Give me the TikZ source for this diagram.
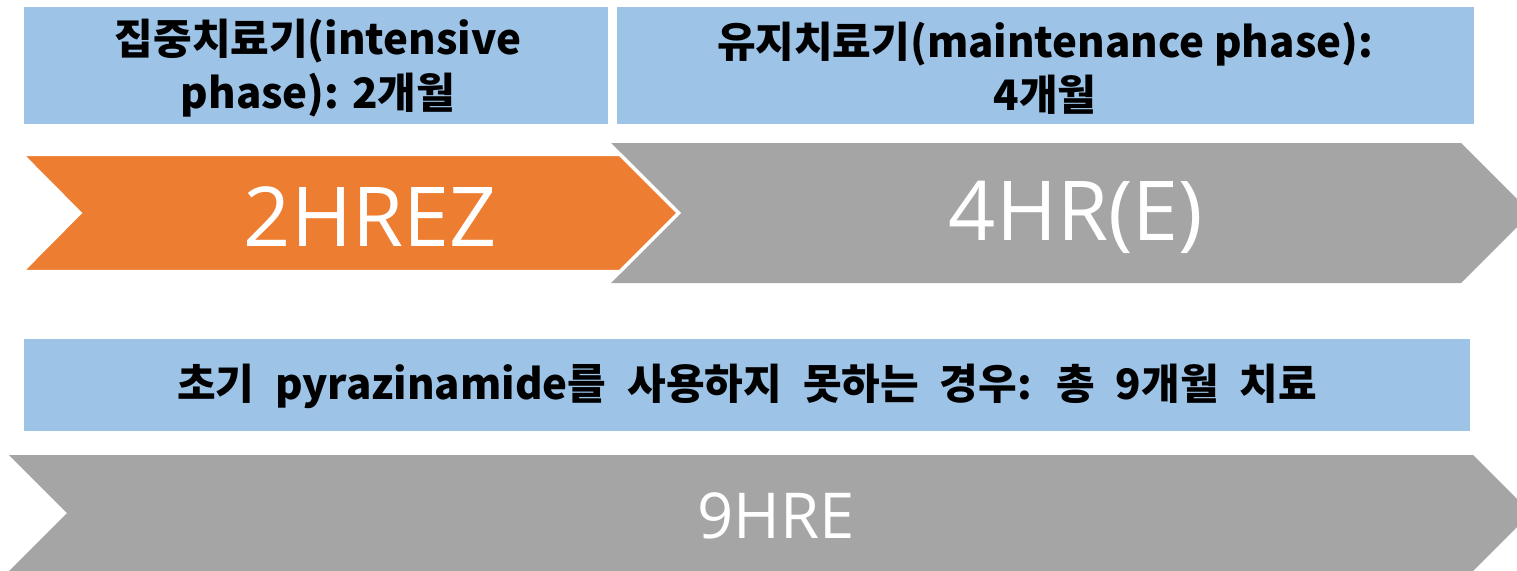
\documentclass[tikz,border=0pt]{standalone}
\usepackage{fontspec}
\setmainfont{Noto Sans CJK KR}
\newfontfamily\latinfont{Open Sans}
\definecolor{hblue}{HTML}{9DC3E6}
\definecolor{corange}{HTML}{ED7D31}
\definecolor{cgray}{HTML}{A5A5A5}
\tikzset{
  hbox/.style={fill=hblue, draw=none},
  hdtext/.style={font=\bfseries\fontsize{31.5}{40}\selectfont, align=center, text=black, inner sep=0pt},
  bigtext/.style={font=\latinfont\fontsize{62}{66}\selectfont, text=white, inner sep=0pt},
  midtext/.style={font=\latinfont\fontsize{47.5}{50}\selectfont, text=white, inner sep=0pt}
}
\begin{document}
\begin{tikzpicture}[x=0.75pt, y=-0.75pt]
\useasboundingbox (0,0) rectangle (1517,571);
\begin{scope}
\clip (0,0) rectangle (1517,571);
% header boxes
\fill[hbox] (24,7) rectangle (608,124);
\fill[hbox] (617,7) rectangle (1474,124);
\fill[hbox] (24,339) rectangle (1470,431);
% gray chevron (maintenance)
\fill[cgray] (611,143) -- (1461,143) -- (1531,213) -- (1461,283) -- (611,283) -- (681,213) -- cycle;
% orange chevron (intensive)
\filldraw[fill=corange, draw=white, line width=2.5pt, line join=miter] (22,154.5) -- (620,154.5) -- (678.5,213) -- (620,271.5) -- (22,271.5) -- (80,213) -- cycle;
% bottom gray chevron
\fill[cgray] (9,455) -- (1473,455) -- (1531,513) -- (1473,571) -- (9,571) -- (67,513) -- cycle;
\end{scope}
\node[hdtext] (h1) at (318,68) {집중치료기(intensive\\phase): 2개월};
\node[hdtext] (h2) at (1045,68) {유지치료기(maintenance phase):\\4개월};
\node[hdtext] (h3) at (747,386) {\spaceskip=0.5em\relax 초기 pyrazinamide를 사용하지 못하는 경우: 총 9개월 치료};
\node[bigtext] (t1) at (370,217) {2HREZ};
\node[bigtext] (t2) at (1076,217) {4HR(E)};
\node[midtext] (t3) at (776,516) {9HRE};
\end{tikzpicture}
\end{document}
